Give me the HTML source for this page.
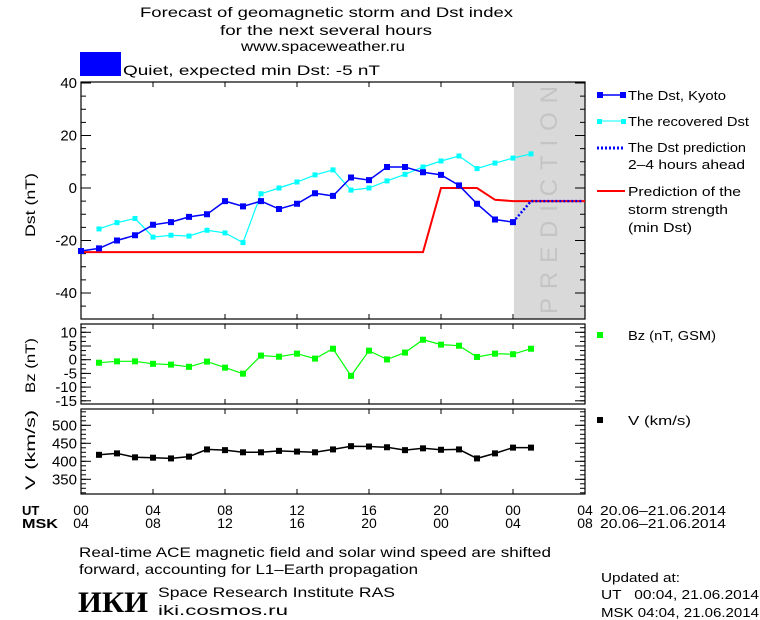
<!DOCTYPE html>
<html><head><meta charset="utf-8"><style>
html,body{margin:0;padding:0;background:#fff;}
svg{display:block;font-family:"Liberation Sans",sans-serif;}
text{fill:#000;}
</style></head><body>
<svg id="chart" width="760" height="620" viewBox="0 0 760 620" xmlns="http://www.w3.org/2000/svg" font-size="13">
<rect width="760" height="620" fill="#fff"/>
<g>
<text x="140" y="17" textLength="373" lengthAdjust="spacingAndGlyphs" style="font-size:14px">Forecast of geomagnetic storm and Dst index</text>
<text x="220" y="35" textLength="212" lengthAdjust="spacingAndGlyphs" style="font-size:14px">for the next several hours</text>
<text x="241" y="51" textLength="164" lengthAdjust="spacingAndGlyphs" style="font-size:14px">www.spaceweather.ru</text>
</g>
<rect x="80" y="52" width="41" height="24" fill="#0000ff"/>
<text x="123" y="75" textLength="257" lengthAdjust="spacingAndGlyphs" style="font-size:14px">Quiet, expected min Dst: -5 nT</text>

<rect x="514" y="82" width="71" height="237" fill="#d9d9d9"/>
<text transform="translate(557,314) rotate(-90)" textLength="228" lengthAdjust="spacing" style="font-size:24px;fill:#c4c4c4">PREDICTION</text>

<g id="axes"></g>
<g id="marks"></g>

<text transform="translate(35,237) rotate(-90)" textLength="64" lengthAdjust="spacingAndGlyphs" style="font-size:14px">Dst (nT)</text>
<text transform="translate(35,393) rotate(-90)" textLength="55" lengthAdjust="spacingAndGlyphs" style="font-size:14px">Bz (nT)</text>
<text transform="translate(35,490) rotate(-90)" textLength="80" lengthAdjust="spacingAndGlyphs" style="font-size:14px">V (km/s)</text>

<g>
<g><line x1="599" y1="95" x2="624" y2="95" stroke="#0000ff" stroke-width="1.5"/><rect x="597" y="92" width="6" height="6" fill="#0000ff"/><rect x="620" y="92" width="6" height="6" fill="#0000ff"/><text x="628" y="100" textLength="98" lengthAdjust="spacingAndGlyphs">The Dst, Kyoto</text></g>
<g><line x1="599" y1="121" x2="624" y2="121" stroke="#00ffff"/><rect x="597" y="119" width="5" height="5" fill="#00ffff"/><rect x="621" y="119" width="5" height="5" fill="#00ffff"/><text x="628" y="126" textLength="121" lengthAdjust="spacingAndGlyphs">The recovered Dst</text></g>
<g><line x1="597" y1="148" x2="625" y2="148" stroke="#0000ff" stroke-width="3" stroke-dasharray="2,2"/><text x="628" y="152" textLength="118" lengthAdjust="spacingAndGlyphs">The Dst prediction</text><text x="628" y="169" textLength="117" lengthAdjust="spacingAndGlyphs">2–4 hours ahead</text></g>
<g><line x1="597" y1="191" x2="625" y2="191" stroke="#ff0000" stroke-width="2"/><text x="628" y="196" textLength="113" lengthAdjust="spacingAndGlyphs">Prediction of the</text><text x="628" y="214" textLength="100" lengthAdjust="spacingAndGlyphs">storm strength</text><text x="628" y="232" textLength="64" lengthAdjust="spacingAndGlyphs">(min Dst)</text></g>
<g><rect x="597" y="332" width="6" height="6" fill="#00ff00"/><text x="628" y="340" textLength="88" lengthAdjust="spacingAndGlyphs">Bz (nT, GSM)</text></g>
<g><rect x="597" y="417" width="6" height="6" fill="#000"/><text x="628" y="425" textLength="63" lengthAdjust="spacingAndGlyphs">V (km/s)</text></g>
</g>

<text x="22" y="515" font-weight="bold">UT</text>
<text x="22" y="528" font-weight="bold" textLength="36" lengthAdjust="spacingAndGlyphs">MSK</text>
<text x="600" y="515" textLength="126" lengthAdjust="spacingAndGlyphs">20.06–21.06.2014</text>
<text x="600" y="528" textLength="126" lengthAdjust="spacingAndGlyphs">20.06–21.06.2014</text>

<g>
<text x="79" y="557" textLength="472" lengthAdjust="spacingAndGlyphs" style="font-size:14px">Real-time ACE magnetic field and solar wind speed are shifted</text>
<text x="79" y="574" textLength="339" lengthAdjust="spacingAndGlyphs" style="font-size:14px">forward, accounting for L1–Earth propagation</text>
<text x="78" y="612" textLength="70" lengthAdjust="spacingAndGlyphs" style="font-family:'Liberation Serif',serif;font-weight:bold;font-size:30px">ИКИ</text>
<text x="158" y="597" textLength="237" lengthAdjust="spacingAndGlyphs" style="font-size:14px">Space Research Institute RAS</text>
<text x="158" y="615" textLength="130" lengthAdjust="spacingAndGlyphs" style="font-size:14px">iki.cosmos.ru</text>
<text x="601" y="582" textLength="79" lengthAdjust="spacingAndGlyphs">Updated at:</text>
<text x="601" y="599" textLength="158" lengthAdjust="spacingAndGlyphs" xml:space="preserve">UT   00:04, 21.06.2014</text>
<text x="601" y="617" textLength="158" lengthAdjust="spacingAndGlyphs">MSK 04:04, 21.06.2014</text>
</g>
</svg>
<script>
const dstHours = [0,1,2,3,4,5,6,7,8,9,10,11,12,13,14,15,16,17,18,19,20,21,22,23,24];
const dstKyoto = [-24,-23,-20,-18,-14,-13,-11,-10,-5,-7,-5,-8,-6,-2,-3,4,3,8,8,6,5,1,-6,-12,-13];
const recHours = [1,2,3,4,5,6,7,8,9,10,11,12,13,14,15,16,17,18,19,20,21,22,23,24,25];
const dstRecovered = [-15.6,-13.2,-11.6,-18.7,-18,-18.3,-16.1,-17.1,-20.8,-2.2,0,2.3,5,6.9,-0.8,0,2.7,5.2,8,10.3,12.2,7.4,9.5,11.4,13];
const predHours = [24,25,27.8];
const dstPrediction = [-13,-5,-5];
const stormHours = [0,19,20,22,23,24,28];
const stormMin = [-24.4,-24.4,0,0,-4.5,-5,-5];
const swHours = [1,2,3,4,5,6,7,8,9,10,11,12,13,14,15,16,17,18,19,20,21,22,23,24,25];
const bzValues = [-1.1,-0.6,-0.6,-1.5,-1.8,-2.6,-0.7,-2.9,-5.1,1.5,1.1,2.2,0.4,4,-5.9,3.3,0.1,2.6,7.3,5.5,5.1,1,2.2,2,4];
const vValues = [418,422,411,410,408,413,433,431,425,425,429,427,425,433,442,441,439,431,436,432,433,408,422,438,438];
const dstTicks = [40,20,0,-20,-40];
const bzTicks = [10,5,0,-5,-10,-15];
const vTicks = [500,450,400,350];
const utLabels = ["00","04","08","12","16","20","00","04"];
const mskLabels = ["04","08","12","16","20","00","04","08"];

const NS="http://www.w3.org/2000/svg";
const X0=81, X1=585;
const x = h => X0 + h*(X1-X0)/28;
const yDst = v => 188 - v*52.5/20;
const yBz = v => 359.7 - v*13.7/5;
const yV = v => 461.3 - (v-400)*18/50;
const panels = [
 {name:'dst',top:82,bot:319,y:yDst,ticks:dstTicks,minor:5,min:-50,max:40},
 {name:'bz',top:324,bot:404,y:yBz,ticks:bzTicks,minor:5/3,min:-16.3,max:13},
 {name:'v',top:409,bot:494,y:yV,ticks:vTicks,minor:12.5,min:305,max:540}
];
const axes=document.getElementById('axes'), marks=document.getElementById('marks');
function mk(tag,attrs,parent){const e=document.createElementNS(NS,tag);for(const k in attrs)e.setAttribute(k,attrs[k]);parent.appendChild(e);return e;}

panels.forEach(p=>{
  const g=mk('g',{},axes);
  
  
  mk('rect',{x:X0,y:p.top,width:X1-X0,height:p.bot-p.top,fill:'none',stroke:'#000','stroke-width':1.2},g);
  for(let v=Math.ceil(p.min/p.minor)*p.minor; v<=p.max; v+=p.minor){
    const yy=p.y(v);
    if(yy<p.top||yy>p.bot) continue;
    mk('line',{x1:X0,y1:yy,x2:X0+5,y2:yy,stroke:'#000'},g);
    mk('line',{x1:X1,y1:yy,x2:X1-5,y2:yy,stroke:'#000'},g);
  }
  p.ticks.forEach(t=>{
    const yy=p.y(t);
    mk('line',{x1:X0,y1:yy,x2:X0+10,y2:yy,stroke:'#000'},g);
    mk('line',{x1:X1,y1:yy,x2:X1-10,y2:yy,stroke:'#000'},g);
    const tx=mk('text',{x:X0-4,y:yy+5,'text-anchor':'end',style:'font-size:15px'},g);
    
    
    tx.textContent=String(t);
  });
  for(let h=4;h<28;h+=4){
    mk('line',{x1:x(h),y1:p.top,x2:x(h),y2:p.top+5,stroke:'#000'},g);
    mk('line',{x1:x(h),y1:p.bot,x2:x(h),y2:p.bot-5,stroke:'#000'},g);
  }
});
utLabels.forEach((l,i)=>{
  const t=mk('text',{x:x(i*4),y:515,'text-anchor':'middle',style:'font-size:14px'},axes);
  
  
  t.textContent=l;
  const m=mk('text',{x:x(i*4),y:528,'text-anchor':'middle',style:'font-size:14px'},axes);
  
  
  m.textContent=mskLabels[i];
});

function series(name,hs,vs,yf,color,width,ms,dash){
  const g=mk('g',{},marks);
  
  
  const pts=hs.map((h,i)=>x(h).toFixed(1)+','+yf(vs[i]).toFixed(1)).join(' ');
  const pl=mk('polyline',{points:pts,fill:'none',stroke:color,'stroke-width':width},g);
  if(dash) pl.setAttribute('stroke-dasharray',dash);
  if(ms) hs.forEach((h,i)=>{
    const r=mk('rect',{x:x(h)-ms/2,y:yf(vs[i])-ms/2,width:ms,height:ms,fill:color},g);
    
    
  });
}
series('storm-strength-line',stormHours,stormMin,yDst,'#ff0000',2,0);
series('recovered-dst-line',recHours,dstRecovered,yDst,'#00ffff',1.2,5);
series('dst-kyoto-line',dstHours,dstKyoto,yDst,'#0000ff',1.5,6);
series('dst-prediction-line',predHours,dstPrediction,yDst,'#0000ff',2.5,0,'2,2');
series('bz-line',swHours,bzValues,yBz,'#00ff00',1.2,6);
series('v-line',swHours,vValues,yV,'#000000',1.5,6);
</script>
</body></html>
